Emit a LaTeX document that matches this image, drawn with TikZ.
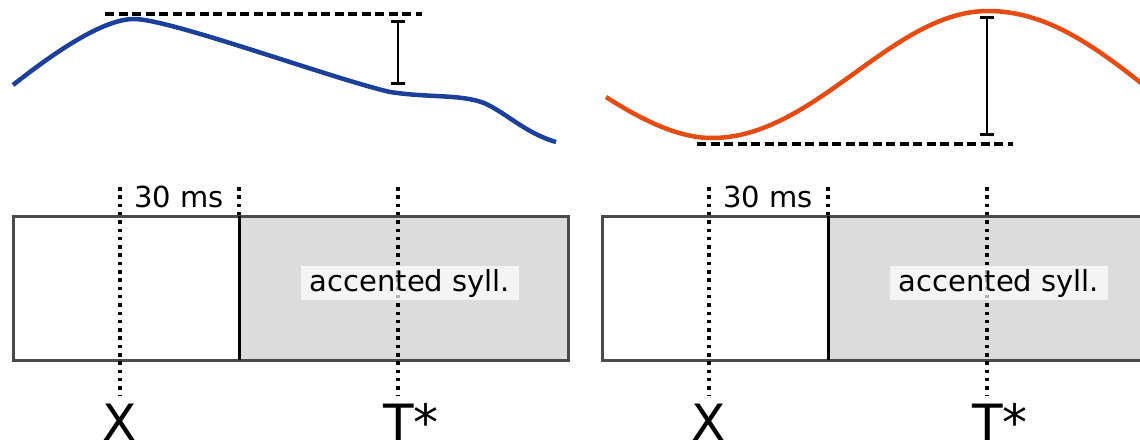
\documentclass[tikz,border=0pt]{standalone}
\usepackage{fontspec}
\setmainfont{DejaVu Sans}
\usetikzlibrary{arrows.meta,positioning}
\definecolor{contourblue}{HTML}{1C409A}
\definecolor{contourorange}{HTML}{E44C14}
\definecolor{boxgray}{HTML}{4A4A4A}
\definecolor{accfill}{HTML}{DCDCDC}
\tikzset{
  syllbox/.style ={draw=boxgray, line width=3pt},
  bound/.style   ={draw=black, line width=3pt},
  guide/.style   ={draw=black, line width=3.5pt, dash pattern=on 3.5pt off 4.8pt},
  refline/.style ={draw=black, line width=4pt, dash pattern=on 9pt off 4.5pt},
  span/.style    ={draw=black, line width=2.8pt,
                   {Bar[width=14pt,length=2pt]}-{Bar[width=14pt,length=2pt]}},
  fzero/.style   ={line width=4.5pt},
  lbl/.style     ={font=\fontsize{29}{34}\selectfont, inner sep=0pt},
  acclbl/.style  ={lbl, fill=white, fill opacity=0.7, text opacity=1,
                   inner xsep=9pt, inner ysep=3pt},
  tlbl/.style    ={font=\fontsize{50}{60}\selectfont, inner sep=0pt, anchor=base}
}

\begin{document}
\begin{tikzpicture}[x=1pt, y=-1pt]
\useasboundingbox (0,0) rectangle (1140,442);
\clip (0,0) rectangle (1140,442);

% f0 contours
\draw[fzero, contourblue] (13,85) .. controls (60,48) and (105,19) .. (134,19)
  .. controls (170,19) and (330,78) .. (390,92)
  .. controls (430,98) and (460,94) .. (484,103)
  .. controls (505,112) and (525,133) .. (556,142);
\draw[refline] (105,14) -- (422,14);
\draw[span] (398,20) -- (398,85);

\draw[fzero, contourorange] (606,97) .. controls (645,122) and (680,138) .. (712,138)
  .. controls (815,138) and (892,11) .. (988,11)
  .. controls (1050,11) and (1100,50) .. (1160,98);
\draw[refline] (697,144) -- (1013,144);
\draw[span] (987,16) -- (987,136);

% syllable boxes
\foreach \dx/\nm in {0/l, 589/r} {
  \begin{scope}[xshift=\dx pt]
    \fill[accfill] (239,216) rectangle (568,360);
    \draw[syllbox] (13,216) rectangle (568,360);
    \draw[bound] (239,216) -- (239,360);
    \coordinate (xtop-\nm) at (120,187);
    \coordinate (xbot-\nm) at (120,395);
    \coordinate (ttop-\nm) at (398,187);
    \coordinate (tbot-\nm) at (398,395);
    \coordinate (wtop-\nm) at (239,187);
    \draw[guide] (xtop-\nm) -- (xbot-\nm);
    \draw[guide] (ttop-\nm) -- (tbot-\nm);
    \draw[guide] (wtop-\nm) -- (239,216);
    \node[lbl, anchor=base] (ms-\nm) at (179,207) {30 ms};
    \node[acclbl] (acc-\nm) at (410,283) {accented syll.};
    \node[tlbl] (x-\nm) at (120,440) {X};
    \node[tlbl, anchor=base west] (t-\nm) at (383,440) {T*};
  \end{scope}
}
\end{tikzpicture}
\end{document}
